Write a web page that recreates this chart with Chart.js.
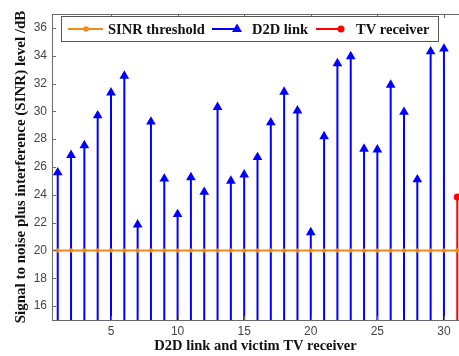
<!DOCTYPE html>
<html>
<head>
<meta charset="utf-8">
<script src="https://cdn.jsdelivr.net/npm/chart.js@4"></script>
<style>
  html, body { margin: 0; padding: 0; background: #fff; }
  #wrap { width: 459px; height: 356px; }
  canvas { display: block; }
</style>
</head>
<body>
<div id="wrap"><canvas id="chart" width="459" height="356"></canvas></div>
<script>
// values
const linkIds = [1, 2, 3, 4, 5, 6, 7, 8, 9, 10, 11, 12, 13, 14, 15, 16, 17, 18, 19, 20, 21, 22, 23, 24, 25, 26, 27, 28, 29, 30];
const d2dSinr = [25.6, 26.85, 27.55, 29.7, 31.35, 32.55, 21.85, 29.25, 25.15, 22.6, 25.25, 24.2, 30.3, 25.0, 25.45, 26.7, 29.2, 31.4, 30.05, 21.3, 28.2, 33.45, 33.95, 27.3, 27.25, 31.9, 29.95, 25.1, 34.3, 34.5];
const tvIds = [31];
const tvSinr = [23.85];
const thresholdX = [0, 1, 2, 3, 4, 5, 6, 7, 8, 9, 10, 11, 12, 13, 14, 15, 16, 17, 18, 19, 20, 21, 22, 23, 24, 25, 26, 27, 28, 29, 30, 31];
const thresholdSinr = [20, 20, 20, 20, 20, 20, 20, 20, 20, 20, 20, 20, 20, 20, 20, 20, 20, 20, 20, 20, 20, 20, 20, 20, 20, 20, 20, 20, 20, 20, 20, 20];
const xTicks = [5, 10, 15, 20, 25, 30];
const yTicks = [16, 18, 20, 22, 24, 26, 28, 30, 32, 34, 36];

const BLUE = '#0000ff', ORANGE = '#ef8a1d', RED = '#ff0000', AXIS = '#6a6a6a';
const pts = (xs, ys) => xs.map((x, i) => ({ x, y: ys[i] }));

// vertical stems from the bottom of the axes up to each point
const stemPlugin = {
  id: 'stems',
  beforeDatasetsDraw(chart) {
    const { ctx, chartArea: a } = chart;
    ctx.save();
    ctx.beginPath(); ctx.rect(a.left, a.top, a.right - a.left, a.bottom - a.top); ctx.clip();
    chart.data.datasets.forEach((ds, i) => {
      if (!ds.stemColor) return;
      ctx.strokeStyle = ds.stemColor; ctx.lineWidth = 2;
      chart.getDatasetMeta(i).data.forEach(p => {
        ctx.beginPath(); ctx.moveTo(p.x, a.bottom); ctx.lineTo(p.x, p.y); ctx.stroke();
      });
    });
    ctx.restore();
  }
};

// matlab-like box: inward ticks, top edge, legend box
const framePlugin = {
  id: 'frame',
  afterDraw(chart) {
    const { ctx, chartArea: a, scales } = chart;
    ctx.save();
    ctx.strokeStyle = AXIS; ctx.lineWidth = 1;
    ctx.beginPath(); ctx.moveTo(a.left, a.top + 0.5); ctx.lineTo(a.right, a.top + 0.5); ctx.stroke();
    ctx.beginPath();
    scales.y.ticks.forEach(t => {
      const y = Math.round(scales.y.getPixelForValue(t.value)) + 0.5;
      ctx.moveTo(a.left, y); ctx.lineTo(a.left + 4, y);
    });
    scales.x.ticks.forEach(t => {
      const x = Math.round(scales.x.getPixelForValue(t.value)) + 0.5;
      ctx.moveTo(x, a.bottom); ctx.lineTo(x, a.bottom - 4);
      ctx.moveTo(x, a.top); ctx.lineTo(x, a.top + 4);
    });
    ctx.stroke();

    // legend
    const L = 61, T = 16, R = 438, B = 41, cy = (T + B) / 2 + 0.5;
    ctx.fillStyle = '#fff'; ctx.fillRect(L, T, R - L, B - T);
    ctx.strokeStyle = '#555'; ctx.lineWidth = 1; ctx.strokeRect(L + 0.5, T + 0.5, R - L, B - T);
    ctx.lineWidth = 2;
    ctx.strokeStyle = ORANGE; ctx.beginPath(); ctx.moveTo(68, cy); ctx.lineTo(103, cy); ctx.stroke();
    ctx.fillStyle = ORANGE; ctx.beginPath(); ctx.arc(86, cy, 2.8, 0, Math.PI * 2); ctx.fill();
    ctx.strokeStyle = BLUE; ctx.beginPath(); ctx.moveTo(212, cy); ctx.lineTo(238, cy); ctx.stroke();
    ctx.fillStyle = BLUE; ctx.beginPath();
    ctx.moveTo(237, cy - 5.5); ctx.lineTo(242, cy + 3); ctx.lineTo(232, cy + 3); ctx.closePath(); ctx.fill();
    ctx.strokeStyle = RED; ctx.beginPath(); ctx.moveTo(316, cy); ctx.lineTo(341, cy); ctx.stroke();
    ctx.fillStyle = RED; ctx.beginPath(); ctx.arc(341, cy, 3.5, 0, Math.PI * 2); ctx.fill();
    ctx.fillStyle = '#111'; ctx.font = 'bold 14.5px "Liberation Serif"'; ctx.textBaseline = 'middle';
    ctx.fillText('SINR threshold', 108, cy + 1);
    ctx.fillText('D2D link', 252, cy + 1);
    ctx.fillText('TV receiver', 356, cy + 1);
    ctx.restore();
  }
};

new Chart(document.getElementById('chart'), {
  type: 'line',
  data: {
    datasets: [
      { label: 'SINR threshold', data: pts(thresholdX, thresholdSinr), borderColor: ORANGE, backgroundColor: ORANGE,
        borderWidth: 2, pointRadius: 2.2, pointBorderWidth: 0, clip: 0 },
      { label: 'D2D link', data: pts(linkIds, d2dSinr), showLine: false, pointStyle: 'triangle', pointRadius: 5.6,
        borderColor: BLUE, backgroundColor: BLUE, pointBorderWidth: 0, stemColor: BLUE, clip: 0 },
      { label: 'TV receiver', data: pts(tvIds, tvSinr), showLine: false, pointStyle: 'circle', pointRadius: 3.5,
        borderColor: RED, backgroundColor: RED, pointBorderWidth: 0, stemColor: RED, clip: 0 }
    ]
  },
  options: {
    responsive: false,
    animation: false,
    layout: { autoPadding: false, padding: { top: 14, right: 0, left: 0, bottom: 0 } },
    plugins: { legend: { display: false }, tooltip: { enabled: false } },
    scales: {
      x: {
        type: 'linear', min: 0.57, max: 31.13,
        afterBuildTicks: s => { s.ticks = xTicks.map(v => ({ value: v })); },
        afterFit: s => { s.height = 36; s.paddingLeft = 0; s.paddingRight = 0; },
        grid: { display: false, drawTicks: false, tickLength: 0 },
        border: { display: true, color: AXIS, width: 1 },
        ticks: { color: '#444', font: { family: 'Liberation Sans', size: 12 }, padding: 4, maxRotation: 0, autoSkip: false },
        title: { display: true, text: 'D2D link and victim TV receiver', color: '#111',
          font: { family: 'Liberation Serif', size: 14.5, weight: 'bold' }, padding: { top: 0, bottom: 1 } }
      },
      y: {
        min: 15, max: 37,
        afterBuildTicks: s => { s.ticks = yTicks.map(v => ({ value: v })); },
        afterFit: s => { s.width = 52; s.paddingTop = 0; s.paddingBottom = 0; },
        grid: { display: false, drawTicks: false, tickLength: 0 },
        border: { display: true, color: AXIS, width: 1 },
        ticks: { color: '#444', font: { family: 'Liberation Sans', size: 12 }, padding: 5 },
        title: { display: true, text: 'Signal to noise plus interference (SINR) level /dB', color: '#111',
          font: { family: 'Liberation Serif', size: 15, weight: 'bold' }, padding: { top: 12, bottom: 0 } }
      }
    }
  },
  plugins: [stemPlugin, framePlugin]
});
</script>
</body>
</html>
